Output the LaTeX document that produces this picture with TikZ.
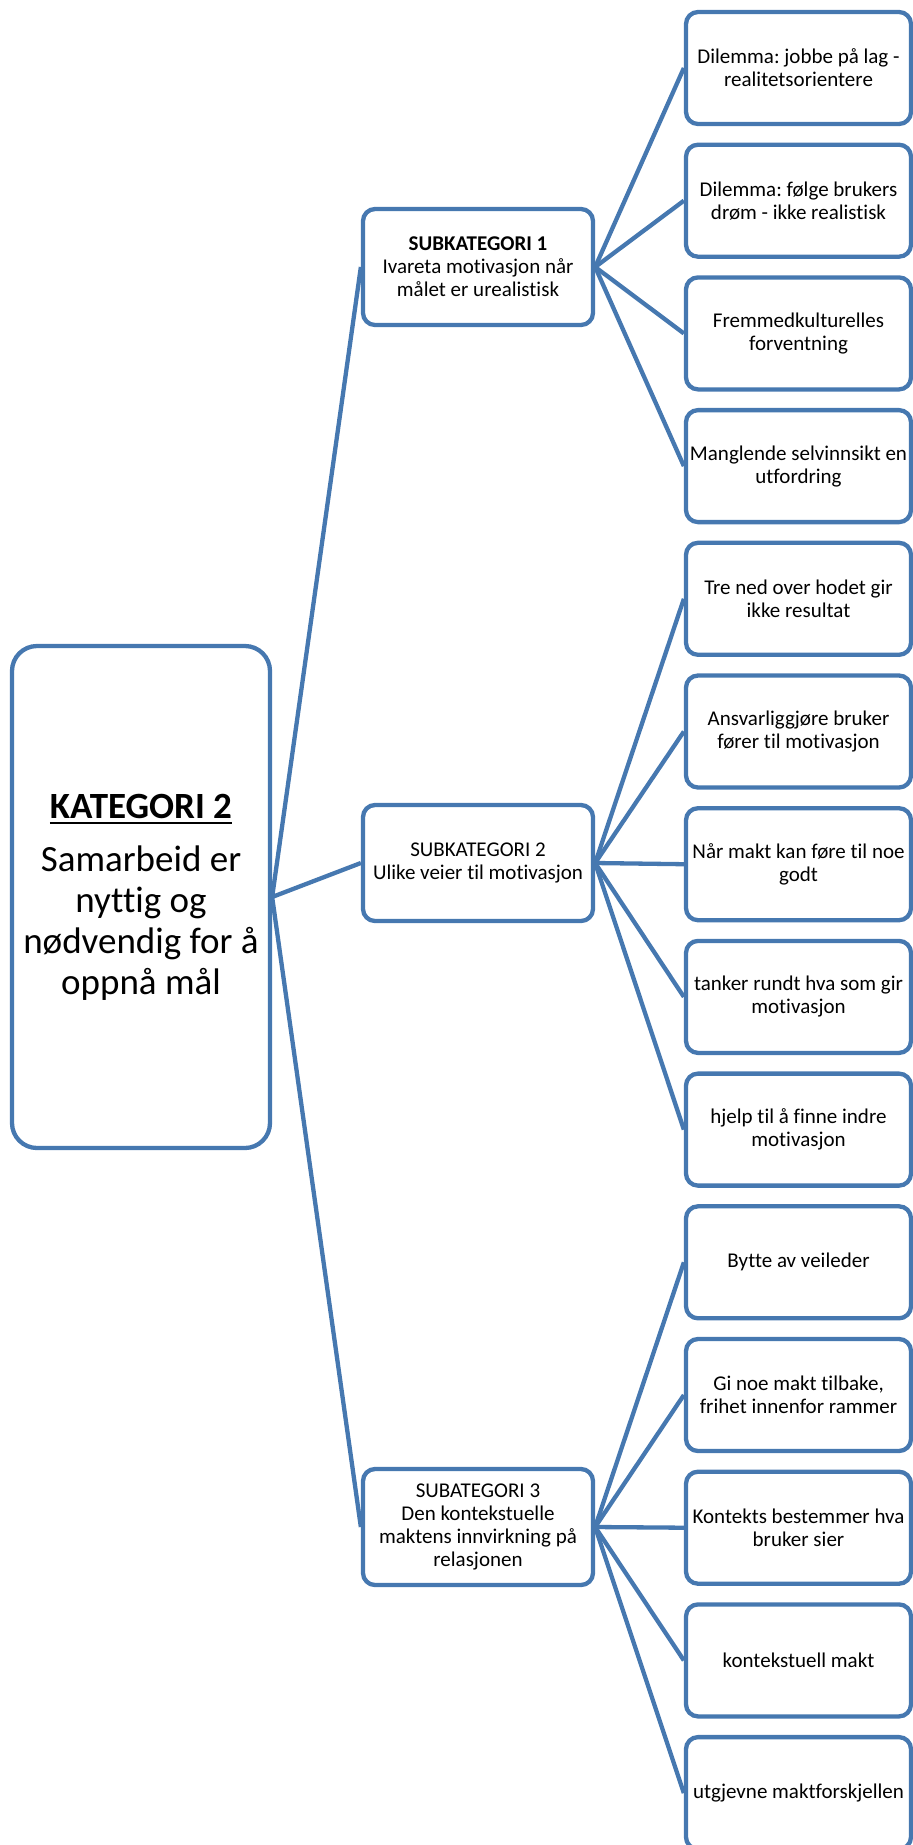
\documentclass[tikz,border=0pt]{standalone}
\usepackage{fontspec}
\setmainfont{Carlito}[Ligatures=NoCommon]
\frenchspacing
\definecolor{edgeblue}{RGB}{70,120,176}
% heading with a heavy underline
\newcommand{\ulhead}[1]{\setbox0\hbox{#1}\rlap{\copy0}\raisebox{-6pt}{\rule{\wd0}{2.5pt}}}
\tikzset{
  box/.style={draw=edgeblue, line width=4.3pt, fill=white, rounded corners=12pt,
    inner sep=0pt, align=center, text=black, font=\fontsize{21}{23}\selectfont},
  subbox/.style={box, minimum width=230pt, minimum height=116pt},
  leafbox/.style={box, minimum width=225pt, minimum height=112pt},
  mainbox/.style={box, rounded corners=25pt, minimum width=258pt, minimum height=502pt,
    font=\fontsize{37}{41}\selectfont},
  link/.style={draw=edgeblue, line width=4.3pt},
}
\begin{document}
\begin{tikzpicture}[x=1pt, y=-1pt]
\useasboundingbox (0,0) rectangle (913,1845);

% category
\node[mainbox] (k) at (141,897)
  {\ulhead{\bfseries KATEGORI 2}\\[12pt] Samarbeid er\\ nyttig og\\ nødvendig for å\\ oppnå mål};

% subcategories
\node[subbox] (s1) at (478,267)
  {\textbf{SUBKATEGORI 1}\\ Ivareta motivasjon når\\ målet er urealistisk};
\node[subbox] (s2) at (478,863)
  {SUBKATEGORI 2\\ Ulike veier til motivasjon};
\node[subbox] (s3) at (478,1527)
  {SUBATEGORI 3\\ Den kontekstuelle\\ maktens innvirkning på\\ relasjonen};

% leaf themes
\foreach \t [count=\i] in {
  {Dilemma: jobbe på lag -\\ realitetsorientere},
  {Dilemma: følge brukers\\ drøm - ikke realistisk},
  {Fremmedkulturelles\\ forventning},
  {Manglende selvinnsikt en\\ utfordring},
  {Tre ned over hodet gir\\ ikke resultat},
  {Ansvarliggjøre bruker\\ fører til motivasjon},
  {Når makt kan føre til noe\\ godt},
  {tanker rundt hva som gir\\ motivasjon},
  {hjelp til å finne indre\\ motivasjon},
  {Bytte av veileder},
  {Gi noe makt tilbake,\\ frihet innenfor rammer},
  {Kontekts bestemmer hva\\ bruker sier},
  {kontekstuell makt},
  {utgjevne maktforskjellen}}
  \node[leafbox] (l\i) at (798.5,{68+132.7*(\i-1)}) {\t};

% connectors
\foreach \s in {s1,s2,s3} \draw[link] (k.east) -- (\s.west);
\foreach \i in {1,...,4} \draw[link] (s1.east) -- (l\i.west);
\foreach \i in {5,...,9} \draw[link] (s2.east) -- (l\i.west);
\foreach \i in {10,...,14} \draw[link] (s3.east) -- (l\i.west);
\end{tikzpicture}
\end{document}
